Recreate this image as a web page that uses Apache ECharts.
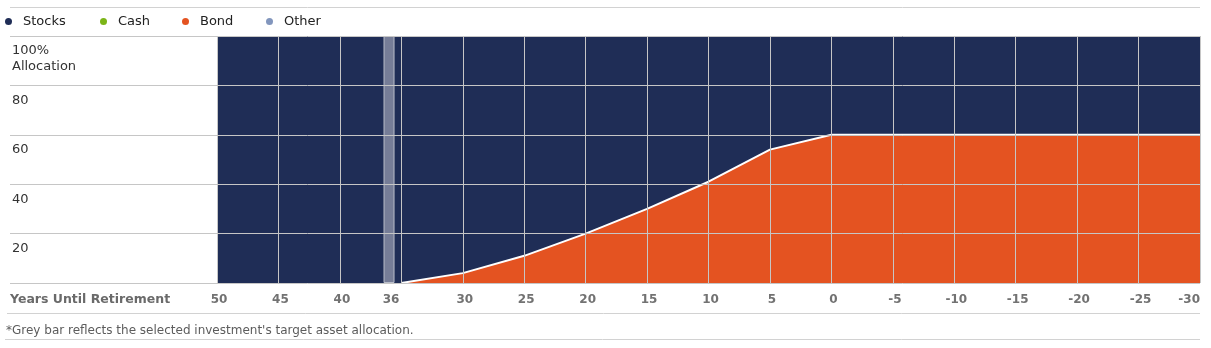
<!DOCTYPE html>
<html>
<head>
<meta charset="utf-8">
<script src="https://cdn.jsdelivr.net/npm/echarts@6/dist/echarts.min.js"></script>
<style>
  html, body { margin: 0; padding: 0; background: #fff; }
  #chart { width: 1211px; height: 348px; }
</style>
</head>
<body>
<div id="chart"></div>
<script>
// Years until retirement, from 50 down to 30 years after retirement
const firstYear = 50;
const lastYear = -30;
const labelYears = [50, 45, 40, 36, 30, 25, 20, 15, 10, 5, 0, -5, -10, -15, -20, -25, -30];

// Glide path, % allocation
const stockYears = [50, 45, 40, 35, 30, 25, 20, 15, 10, 5, 0, -5, -10, -15, -20, -25, -30];
const stocks     = [100, 100, 100, 100, 96, 89, 80, 70, 59, 46, 40, 40, 40, 40, 40, 40, 40];
const bondYears  = [35, 30, 25, 20, 15, 10, 5, 0, -5, -10, -15, -20, -25, -30];
const bond       = [0, 4, 11, 20, 30, 41, 54, 60, 60, 60, 60, 60, 60, 60];
const cash       = [];

// Selected investment's target allocation (grey bar)
const otherYear = 36;
const otherValue = 100;

const allocTicks = [0, 20, 40, 60, 80, 100];

const legendNames = ['Stocks', 'Cash', 'Bond', 'Other'];
const legendColors = ['#1f2d56', '#7cb518', '#e45321', '#8296bd'];
const legendLefts = [5, 100, 182, 266];

const FONT = '"DejaVu Sans", Verdana, sans-serif';
const GRID_COLOR = '#c6c6c6';
const SEP_COLOR = '#d2d2d2';

// category list, one slot per year
const years = [];
for (let y = firstYear; y >= lastYear; y--) years.push(String(y));

const pairs = (xs, vs) => xs.map((x, i) => [String(x), vs[i]]);

const chart = echarts.init(document.getElementById('chart'), null, { renderer: 'canvas' });

chart.setOption({
  animation: false,
  textStyle: { fontFamily: FONT },
  legend: legendNames.map((name, i) => ({
    left: legendLefts[i],
    top: 15,
    padding: 0,
    itemWidth: 7,
    itemHeight: 7,
    icon: 'circle',
    selectedMode: false,
    textStyle: { fontFamily: FONT, fontSize: 13, color: '#222', padding: [0, 0, 0, 6] },
    data: [{ name, itemStyle: { color: legendColors[i], borderWidth: 0 } }]
  })),
  grid: [
    // full-width band carrying the allocation scale
    { left: 10, right: 11, top: 36, bottom: 65, outerBoundsMode: 'none', containLabel: false },
    // plot area
    { left: 217, right: 11, top: 36, bottom: 65, outerBoundsMode: 'none', containLabel: false }
  ],
  xAxis: [
    { gridIndex: 0, type: 'value', show: false, min: 0, max: 1 },
    {
      gridIndex: 1,
      type: 'category',
      data: years,
      boundaryGap: false,
      z: 10,
      axisLine: { show: false },
      axisTick: { show: false },
      splitLine: {
        show: true,
        interval: (i, v) => Number(v) % 5 === 0,
        lineStyle: { color: GRID_COLOR, width: 1 }
      },
      axisLabel: {
        interval: (i, v) => labelYears.indexOf(Number(v)) >= 0,
        alignMaxLabel: 'right',
        margin: 11,
        fontFamily: FONT,
        fontSize: 12,
        fontWeight: 'bold',
        color: '#727272',
        padding: [0, 0, 0, 4]
      }
    }
  ],
  yAxis: [
    {
      gridIndex: 0,
      type: 'value',
      min: allocTicks[0],
      max: allocTicks[allocTicks.length - 1],
      interval: 20,
      z: 10,
      axisLine: { show: false },
      axisTick: { show: false },
      splitLine: { show: true, lineStyle: { color: GRID_COLOR, width: 1 } },
      axisLabel: {
        inside: true,
        margin: 2,
        align: 'left',
        verticalAlign: 'top',
        padding: [7, 0, 0, 0],
        lineHeight: 16,
        fontFamily: FONT,
        fontSize: 13,
        color: '#333',
        formatter: v => v === 100 ? '100%\nAllocation' : (v === 0 ? '' : String(v))
      }
    },
    {
      gridIndex: 1,
      type: 'value',
      min: allocTicks[0],
      max: allocTicks[allocTicks.length - 1],
      interval: 20,
      show: false,
      splitLine: { show: false }
    }
  ],
  series: [
    {
      name: 'Bond',
      type: 'line',
      xAxisIndex: 1,
      yAxisIndex: 1,
      stack: 'alloc',
      z: 3,
      symbol: 'none',
      itemStyle: { color: '#e45321' },
      lineStyle: { color: '#ffffff', width: 2 },
      areaStyle: { color: '#e45321', opacity: 1 },
      data: pairs(bondYears, bond)
    },
    {
      name: 'Stocks',
      type: 'line',
      xAxisIndex: 1,
      yAxisIndex: 1,
      stack: 'alloc',
      z: 2,
      symbol: 'none',
      itemStyle: { color: '#1f2d56' },
      lineStyle: { width: 0, opacity: 0 },
      areaStyle: { color: '#1f2d56', opacity: 1 },
      data: pairs(stockYears, stocks)
    },
    {
      name: 'Cash',
      type: 'line',
      xAxisIndex: 1,
      yAxisIndex: 1,
      symbol: 'none',
      itemStyle: { color: '#7cb518' },
      data: cash
    },
    {
      name: 'Other',
      type: 'bar',
      xAxisIndex: 1,
      yAxisIndex: 1,
      z: 4,
      barWidth: 11,
      itemStyle: { color: '#767d97', borderColor: '#b9bdc9', borderWidth: 1 },
      data: [[String(otherYear), otherValue]]
    }
  ],
  graphic: [
    { type: 'line', shape: { x1: 10, y1: 7.5, x2: 1200, y2: 7.5 }, style: { stroke: SEP_COLOR, lineWidth: 1 } },
    { type: 'line', shape: { x1: 7, y1: 313.5, x2: 1200, y2: 313.5 }, style: { stroke: SEP_COLOR, lineWidth: 1 } },
    { type: 'line', shape: { x1: 5, y1: 339.5, x2: 1200, y2: 339.5 }, style: { stroke: SEP_COLOR, lineWidth: 1 } },
    {
      type: 'text', left: 10, top: 293,
      style: { text: 'Years Until Retirement', font: 'bold 12.5px ' + FONT, fill: '#6a6a6a' }
    },
    {
      type: 'text', left: 6, top: 325,
      style: { text: "*Grey bar reflects the selected investment's target asset allocation.", font: '12px ' + FONT, fill: '#5c5c5c' }
    }
  ]
});
</script>
</body>
</html>
